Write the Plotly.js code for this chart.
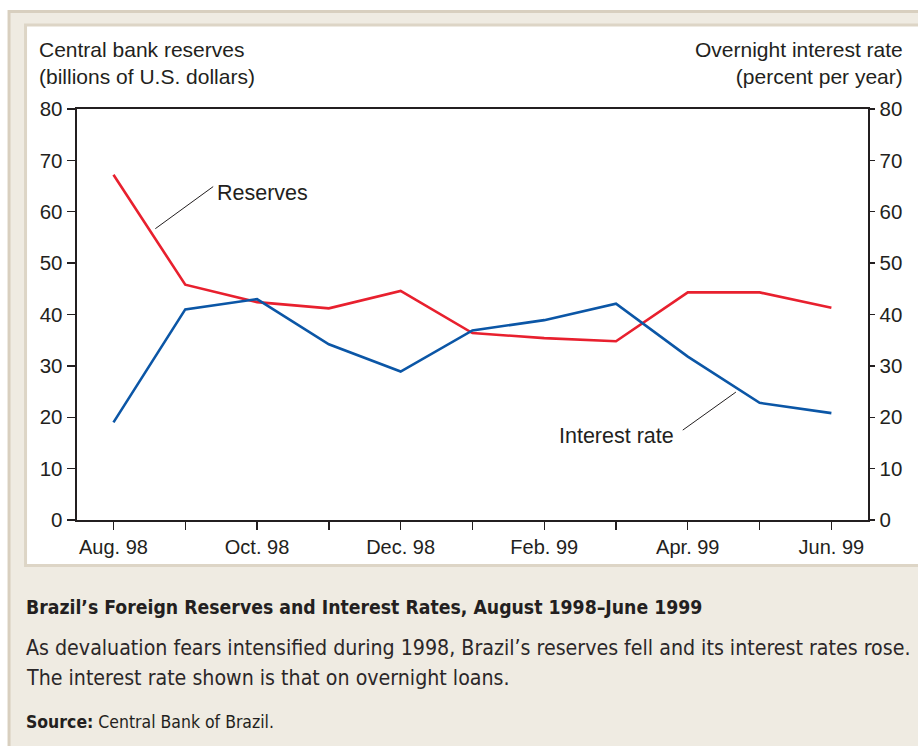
<!DOCTYPE html>
<html>
<head>
<meta charset="utf-8">
<script src="https://cdn.plot.ly/plotly-3.0.1.min.js"></script>
<style>html,body{margin:0;padding:0;background:#fff;}#chart{width:918px;height:746px;}</style>
</head>
<body>
<div id="chart"></div>
<script>
// ---- data ----
var months = ['Aug. 98','Sep. 98','Oct. 98','Nov. 98','Dec. 98','Jan. 99','Feb. 99','Mar. 99','Apr. 99','May 99','Jun. 99'];
var tickLabels = ['Aug. 98','','Oct. 98','','Dec. 98','','Feb. 99','','Apr. 99','','Jun. 99'];
var reserves = [67.2, 45.8, 42.4, 41.2, 44.6, 36.4, 35.4, 34.8, 44.3, 44.3, 41.3];
var interestRate = [19.0, 41.0, 43.0, 34.2, 28.9, 36.9, 38.9, 42.1, 31.8, 22.8, 20.8];
var yTicks = [0, 10, 20, 30, 40, 50, 60, 70, 80];

var captionTitle = 'Brazil’s Foreign Reserves and Interest Rates, August 1998–June 1999';
var captionLine1 = 'As devaluation fears intensified during 1998, Brazil’s reserves fell and its interest rates rose.';
var captionLine2 = 'The interest rate shown is that on overnight loans.';
var sourceLabel = 'Source:';
var sourceText = ' Central Bank of Brazil.';

// ---- layout helpers (pixel -> paper) ----
var L = 76.5, R = 868, T = 109, B = 520;
function px(x){ return (x - L) / (R - L); }
function py(y){ return (B - y) / (B - T); }
var ink = '#231f20';
var font = 'Liberation Sans, Arial, sans-serif';

// pick a narrow font for the caption if one is installed
var cv = document.createElement('canvas').getContext('2d');
function width(txt, fam, weight, size){ cv.font = (weight||'normal') + ' ' + size + 'px ' + fam; return cv.measureText(txt).width; }
function installed(name){
  var probe = 'abcdefghijklmnopqrstuvwxyz ABCDEFG 0123456789';
  return width(probe, '"' + name + '", monospace', 'normal', 40) !== width(probe, 'monospace', 'normal', 40) ||
         width(probe, '"' + name + '", serif', 'normal', 40) !== width(probe, 'serif', 'normal', 40);
}
var capFam = 'Liberation Sans';
['Liberation Sans Narrow', 'DejaVu Sans Condensed', 'Roboto Condensed', 'Open Sans Condensed'].some(function(n){
  if (installed(n)) { capFam = n; return true; } return false;
});
var capFamCss = '"' + capFam + '"';
function fit(txt, weight, target){ return 100 * target / width(txt, capFamCss, weight, 100); }
var titleSize = fit(captionTitle, 'bold', 677);
var bodySize = fit(captionLine1, 'normal', 885);
var srcSize = Math.min(fit(sourceLabel + sourceText, 'normal', 240), 19);
var capFont = capFam + ', Liberation Sans, Arial, sans-serif';

var traces = [
  {x: months, y: reserves, type: 'scatter', mode: 'lines', name: 'Reserves',
   line: {color: '#e8202e', width: 2.6}, yaxis: 'y', hoverinfo: 'skip'},
  {x: months, y: interestRate, type: 'scatter', mode: 'lines', name: 'Interest rate',
   line: {color: '#0b56a6', width: 2.6}, yaxis: 'y2', hoverinfo: 'skip'}
];

var layout = {
  width: 918, height: 746,
  margin: {l: L, r: 918 - R, t: T, b: 746 - B, pad: 0},
  paper_bgcolor: '#ffffff',
  plot_bgcolor: 'rgba(0,0,0,0)',
  showlegend: false,
  font: {family: font, size: 20, color: ink},
  xaxis: {
    type: 'category', range: [-0.508, 10.51],
    tickmode: 'array', tickvals: months, ticktext: tickLabels,
    ticks: 'outside', ticklen: 8, tickwidth: 1.4, tickcolor: ink,
    showline: true, linecolor: ink, linewidth: 2, mirror: true,
    showgrid: false, zeroline: false,
    tickfont: {family: font, size: 20, color: ink}
  },
  yaxis: {
    range: [0, 80], tickmode: 'array', tickvals: yTicks,
    ticks: 'outside', ticklen: 8, tickwidth: 1.4, tickcolor: ink,
    showline: true, linecolor: ink, linewidth: 2.4,
    showgrid: false, zeroline: false,
    tickfont: {family: font, size: 20.5, color: ink}
  },
  yaxis2: {
    range: [0, 80], tickmode: 'array', tickvals: yTicks, overlaying: 'y', side: 'right',
    ticks: 'outside', ticklen: 5, tickwidth: 1.4, tickcolor: ink,
    showline: true, linecolor: ink, linewidth: 2.4,
    showgrid: false, zeroline: false,
    tickfont: {family: font, size: 20.5, color: ink}
  },
  shapes: [
    {type: 'rect', xref: 'paper', yref: 'paper', layer: 'below',
     x0: px(8.5), x1: px(960), y0: py(780), y1: py(11.5),
     fillcolor: '#efebe2', line: {color: '#d8cfbf', width: 3}},
    {type: 'rect', xref: 'paper', yref: 'paper', layer: 'below',
     x0: px(25), x1: px(960), y0: py(565.5), y1: py(25),
     fillcolor: '#ffffff', line: {color: '#ddd5c6', width: 3}},
    // leader lines
    {type: 'line', xref: 'x', yref: 'y', x0: 0.583, y0: 56.7, x1: 1.389, y1: 64.9,
     line: {color: ink, width: 1}},
    {type: 'line', xref: 'x', yref: 'y', x0: 7.93, y0: 17.5, x1: 8.67, y1: 24.9,
     line: {color: ink, width: 1}}
  ],
  annotations: [
    {xref: 'paper', yref: 'paper', x: px(36), y: py(63), xanchor: 'left', yanchor: 'middle',
     align: 'left', showarrow: false, text: 'Central bank reserves<br>(billions of U.S. dollars)',
     font: {family: font, size: 21, color: ink}},
    {xref: 'paper', yref: 'paper', x: px(905), y: py(63), xanchor: 'right', yanchor: 'middle',
     align: 'right', showarrow: false, text: 'Overnight interest rate<br>(percent per year)',
     font: {family: font, size: 21, color: ink}},
    {xref: 'x', yref: 'y', x: 2.08, y: 63.7, xanchor: 'center', yanchor: 'middle',
     showarrow: false, text: 'Reserves', font: {family: font, size: 21.5, color: ink}},
    {xref: 'x', yref: 'y', x: 7.0, y: 16.3, xanchor: 'center', yanchor: 'middle',
     showarrow: false, text: 'Interest rate', font: {family: font, size: 21.5, color: ink}},
    {xref: 'paper', yref: 'paper', x: px(23), y: py(607), xanchor: 'left', yanchor: 'middle',
     showarrow: false, text: '<b>' + captionTitle + '</b>',
     font: {family: capFont, size: titleSize, color: ink}},
    {xref: 'paper', yref: 'paper', x: px(23), y: py(647), xanchor: 'left', yanchor: 'middle',
     align: 'left', showarrow: false, text: captionLine1,
     font: {family: capFont, size: bodySize, color: '#2b2728'}},
    {xref: 'paper', yref: 'paper', x: px(23), y: py(677), xanchor: 'left', yanchor: 'middle',
     align: 'left', showarrow: false, text: captionLine2,
     font: {family: capFont, size: bodySize, color: '#2b2728'}},
    {xref: 'paper', yref: 'paper', x: px(23), y: py(722), xanchor: 'left', yanchor: 'middle',
     showarrow: false, text: '<b>' + sourceLabel + '</b>' + sourceText,
     font: {family: capFont, size: srcSize, color: ink}}
  ]
};

Plotly.newPlot('chart', traces, layout, {staticPlot: true, displayModeBar: false});
</script>
</body>
</html>
